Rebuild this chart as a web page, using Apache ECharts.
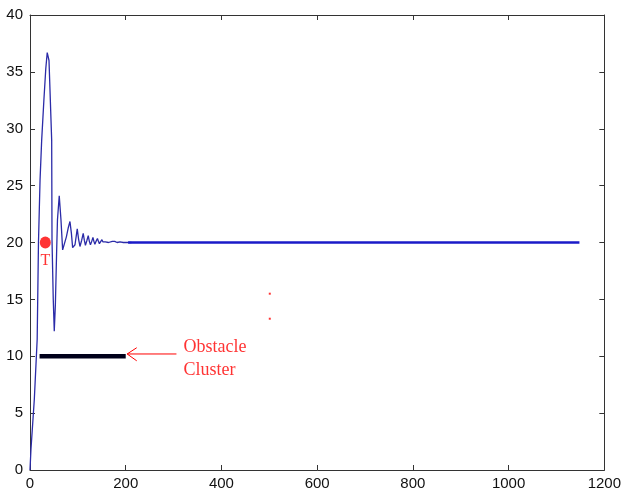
<!DOCTYPE html>
<html>
<head>
<meta charset="utf-8">
<script src="https://cdn.jsdelivr.net/npm/echarts@6/dist/echarts.min.js"></script>
<style>
html,body{margin:0;padding:0;background:#fff;}
#c{width:624px;height:493px;}
</style>
</head>
<body>
<div id="c"></div>
<script>
// ---- data ----
const xTicks = [0, 200, 400, 600, 800, 1000, 1200];
const yTicks = [0, 5, 10, 15, 20, 25, 30, 35, 40];

// robot trajectory (x, y)
const pathX = [0, 2, 9, 15, 17.7, 21, 24.4, 29, 33, 36, 39.7, 45.3, 46, 48.6, 50.7, 53, 55.7, 57.4, 61.1, 64.7, 68.2, 72, 76, 80, 83.5, 86.5, 89.1, 94, 98.7, 101.5, 104.4, 108, 111.2, 113.5, 115.8, 119, 121.7, 124, 126.3, 129, 131.5, 133.5, 135.6, 138, 140.9, 143, 145, 147.5, 150.3, 152.5, 154.4, 157.5, 160.7, 164, 167, 172, 177, 182, 188, 195, 205, 212];
const pathY = [0, 1.8, 6.2, 11.5, 20, 25.5, 29, 32.5, 35.3, 36.7, 36, 29, 20.2, 15, 12.2, 14.5, 19.3, 22, 24.1, 22, 19.35, 19.2, 20.5, 21.3, 21.85, 20.8, 19.55, 19.8, 21.2, 20.3, 19.65, 20.2, 20.8, 20.2, 19.75, 20.2, 20.6, 20.1, 19.8, 20.1, 20.45, 20.1, 19.85, 20.1, 20.35, 20.1, 19.9, 20.05, 20.25, 20.05, 19.95, 20.05, 20.15, 20.0, 20.0, 20.1, 20.1, 20.0, 20.05, 20.0, 20.0, 20.0];
// steady part of the path
const steadyX = [205, 1148];
const steadyY = [20, 20];

// target
const targetX = [32];
const targetY = [20];
const targetLabel = 'T';

// obstacle cluster
const obstacleX = [20, 200];
const obstacleY = [10, 10];

// stray red points
const dotX = [501, 501];
const dotY = [15.5, 13.3];

// annotation arrow
const arrowX = [306, 203];
const arrowY = [10.2, 10.2];
const arrowHeadX = [223, 203, 223];
const arrowHeadY = [10.75, 10.2, 9.6];
const annotationText = 'Obstacle\nCluster';

const zip = (a, b) => a.map((v, i) => [v, b[i]]);

const chart = echarts.init(document.getElementById('c'), null, {renderer: 'canvas'});

const axisColor = '#333';
const red = '#ff0000';
const labelFont = {color: '#111', fontFamily: 'Liberation Sans, Arial, sans-serif', fontSize: 15};

const xBase = {
  type: 'value', min: 0, max: 1200, interval: 200,
  axisLine: {show: true, onZero: false, lineStyle: {color: axisColor, width: 1}},
  axisTick: {show: true, inside: true, length: 5, lineStyle: {color: axisColor}},
  splitLine: {show: false}
};
const yBase = {
  type: 'value', min: 0, max: 40, interval: 5,
  axisLine: {show: true, onZero: false, lineStyle: {color: axisColor, width: 1}},
  axisTick: {show: true, inside: true, length: 5, lineStyle: {color: axisColor}},
  splitLine: {show: false}
};

chart.setOption({
  animation: false,
  backgroundColor: '#fff',
  grid: {left: 30, right: 19, top: 15, bottom: 23, containLabel: false},
  xAxis: [
    Object.assign({}, xBase, {position: 'bottom',
      axisLabel: Object.assign({margin: 6, formatter: v => String(v)}, labelFont)}),
    Object.assign({}, xBase, {position: 'top', axisLabel: {show: false}})
  ],
  yAxis: [
    Object.assign({}, yBase, {position: 'left',
      axisLabel: Object.assign({margin: 7, formatter: v => String(v)}, labelFont)}),
    Object.assign({}, yBase, {position: 'right', axisLabel: {show: false}})
  ],
  series: [
    {
      type: 'line', name: 'path', data: zip(pathX, pathY), showSymbol: false, symbol: 'none',
      lineStyle: {color: '#2b2ba8', width: 1.3}, z: 3
    },
    {
      type: 'line', name: 'steady', data: zip(steadyX, steadyY), showSymbol: false, symbol: 'none',
      lineStyle: {color: '#1a1ac8', width: 2.6}, z: 3
    },
    {
      type: 'line', name: 'obstacle', data: zip(obstacleX, obstacleY), showSymbol: false, symbol: 'none',
      lineStyle: {color: '#00001a', width: 4.5}, z: 4
    },
    {
      type: 'scatter', name: 'target', data: zip(targetX, targetY), symbol: 'circle', symbolSize: [11, 12],
      itemStyle: {color: red}, z: 5,
      label: {show: true, position: 'bottom', distance: 4, formatter: targetLabel, color: red,
        fontFamily: 'Liberation Serif, Times New Roman, serif', fontSize: 16}
    },
    {
      type: 'scatter', name: 'dots', data: zip(dotX, dotY), symbol: 'rect', symbolSize: 2,
      itemStyle: {color: red}, z: 5
    },
    {
      type: 'line', name: 'arrow', data: zip(arrowX, arrowY), symbol: 'none',
      lineStyle: {color: red, width: 1}, z: 5
    },
    {
      type: 'line', name: 'arrowhead', data: zip(arrowHeadX, arrowHeadY), symbol: 'none',
      lineStyle: {color: red, width: 1}, z: 5
    },
    {
      type: 'scatter', name: 'annotation', data: [[arrowX[0], arrowY[0]]], symbolSize: 0,
      silent: true, z: 5,
      label: {show: true, position: 'right', distance: 7, offset: [0, 5], formatter: annotationText,
        color: red, fontFamily: 'Liberation Serif, Times New Roman, serif', fontSize: 18,
        lineHeight: 23, align: 'left'}
    }
  ]
});
</script>
</body>
</html>
